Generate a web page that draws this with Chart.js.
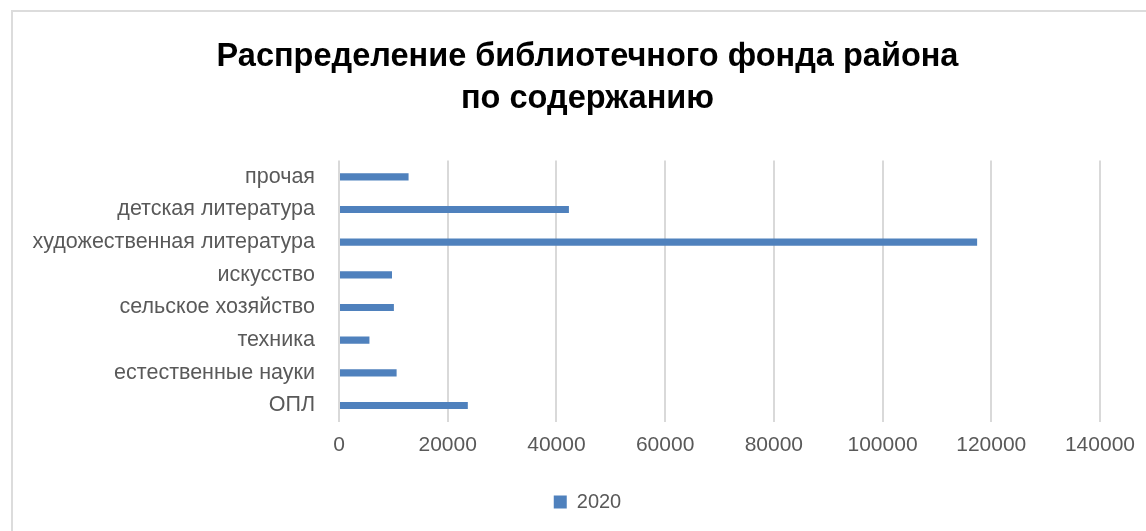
<!DOCTYPE html>
<html>
<head>
<meta charset="utf-8">
<script src="https://cdn.jsdelivr.net/npm/chart.js@4/dist/chart.umd.min.js"></script>
<style>
html,body{margin:0;padding:0;background:#fff;}
#frame{position:absolute;left:11px;top:10px;width:1160px;height:540px;border:2px solid #dcdcdc;box-sizing:border-box;}
#wrap{position:absolute;left:0;top:0;width:1146px;height:531px;}
</style>
</head>
<body>
<div id="frame"></div>
<div id="wrap"><canvas id="c"></canvas></div>
<script>
const categories = ["ОПЛ","естественные науки","техника","сельское хозяйство","искусство","художественная литература","детская литература","прочая"];
const values2020 = [23700, 10600, 5600, 10100, 9750, 117400, 42300, 12800];
const seriesName = "2020";
const titleLines = ["Распределение библиотечного фонда района","по содержанию"];

const FONT = "'Liberation Sans', 'Arial', sans-serif";

const noLabelClip = {
  id: 'noLabelClip',
  beforeDraw(chart) {
    const y = chart.scales.y;
    if (y) { y._computeLabelArea = () => undefined; }
  }
};

new Chart(document.getElementById('c'), {
  type: 'bar',
  data: {
    labels: categories,
    datasets: [{
      label: seriesName,
      data: values2020,
      backgroundColor: '#4f81bd',
      borderWidth: 0,
      barPercentage: 0.22,
      categoryPercentage: 1.0
    }]
  },
  plugins: [noLabelClip],
  options: {
    indexAxis: 'y',
    responsive: true,
    maintainAspectRatio: false,
    animation: false,
    layout: { padding: { left: 60, right: 31, top: 36, bottom: 9 } },
    plugins: {
      title: {
        display: true,
        text: titleLines,
        color: '#000',
        font: { family: FONT, size: 32.5, weight: 'bold', lineHeight: 1.3 },
        padding: { top: 0, bottom: 40 }
      },
      legend: {
        position: 'bottom',
        labels: {
          color: '#595959',
          font: { family: FONT, size: 20 },
          boxWidth: 13, boxHeight: 13,
          padding: 15
        }
      },
      tooltip: { enabled: false }
    },
    scales: {
      y: {
        reverse: true,
        grid: { display: false },
        border: { display: false },
        afterFit: (axis) => { axis.width = 279; },
        ticks: {
          color: '#595959',
          font: { family: FONT, size: 21.5 },
          padding: 16
        }
      },
      x: {
        min: 0, max: 140000,
        afterFit: (axis) => { axis.height = axis.height + 8; },
        ticks: {
          stepSize: 20000,
          color: '#595959',
          font: { family: FONT, size: 21 },
          padding: 11,
          callback: (v) => String(v)
        },
        grid: { color: '#d9d9d9', lineWidth: 2, drawTicks: false },
        border: { display: false }
      }
    }
  }
});
</script>
</body>
</html>
